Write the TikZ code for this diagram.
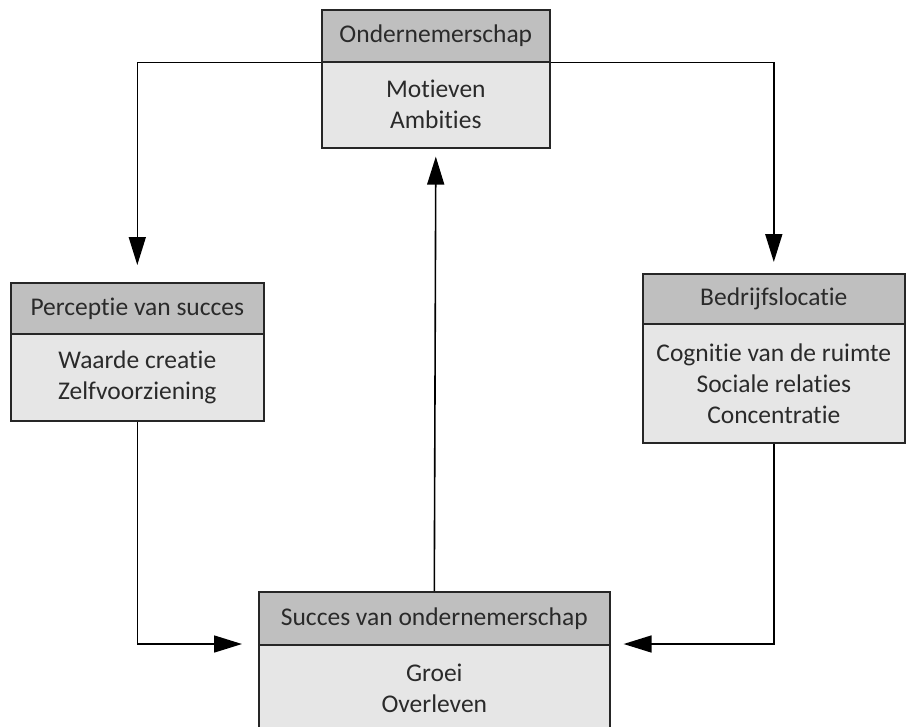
\documentclass[tikz,border=0pt]{standalone}
\usepackage{fontspec}
\setmainfont{Carlito}[Ligatures=NoCommon]
\usetikzlibrary{arrows.meta,positioning}
\definecolor{hdrgray}{HTML}{BFBFBF}
\definecolor{bodygray}{HTML}{E6E6E6}
\definecolor{txtgray}{HTML}{2A2A2A}
\tikzset{
  boxbase/.style={draw=black!85, line width=1.6pt, inner sep=0pt, text=txtgray,
     font=\fontsize{25.5}{31}\selectfont, align=center, anchor=north west},
  hdr/.style={boxbase, fill=hdrgray},
  bodyb/.style={boxbase, fill=bodygray},
  arr/.style={draw=black, line width=1.6pt, -{Triangle[length=28pt,width=17pt]}},
}
\begin{document}
\begin{tikzpicture}[x=1pt,y=-1pt]
\useasboundingbox (0,0) rectangle (907,726);
% top box
\node[bodyb, minimum width=228, minimum height=86] (topB) at (321,61) {Motieven\\Ambities};
\node[hdr, minimum width=228, minimum height=52] (topH) at (321,9) {Ondernemerschap};
% left box
\node[bodyb, minimum width=253, minimum height=87] (leftB) at (10,333) {Waarde creatie\\Zelfvoorziening};
\node[hdr, minimum width=253, minimum height=51] (leftH) at (10,282) {Perceptie van succes};
% right box
\node[bodyb, minimum width=262, minimum height=119] (rightB) at (642,323) {Cognitie van de ruimte\\Sociale relaties\\Concentratie};
\node[hdr, minimum width=262, minimum height=50] (rightH) at (642,273) {Bedrijfslocatie};
% bottom box
\node[bodyb, minimum width=351, minimum height=88] (botB) at (258,644) {Groei\\Overleven};
\node[hdr, minimum width=351, minimum height=53] (botH) at (258,591) {Succes van ondernemerschap};
% connectors
\coordinate (lt) at ([yshift=17pt]leftH.north);
\coordinate (rt) at ([yshift=11pt]rightH.north);
\coordinate (ct) at ([yshift=-8pt]topB.south);
\coordinate (lb) at ([xshift=-16pt]botB.north west);
\coordinate (rb) at ([xshift=13pt]botB.north east);
\draw[arr] (topH.south west) -| (lt);
\draw[arr] (topH.south east) -| (rt);
\draw[arr] (botH.north) -- (ct);
\draw[arr] (leftB.south) |- (lb);
\draw[arr] (rightB.south) |- (rb);
\end{tikzpicture}
\end{document}
